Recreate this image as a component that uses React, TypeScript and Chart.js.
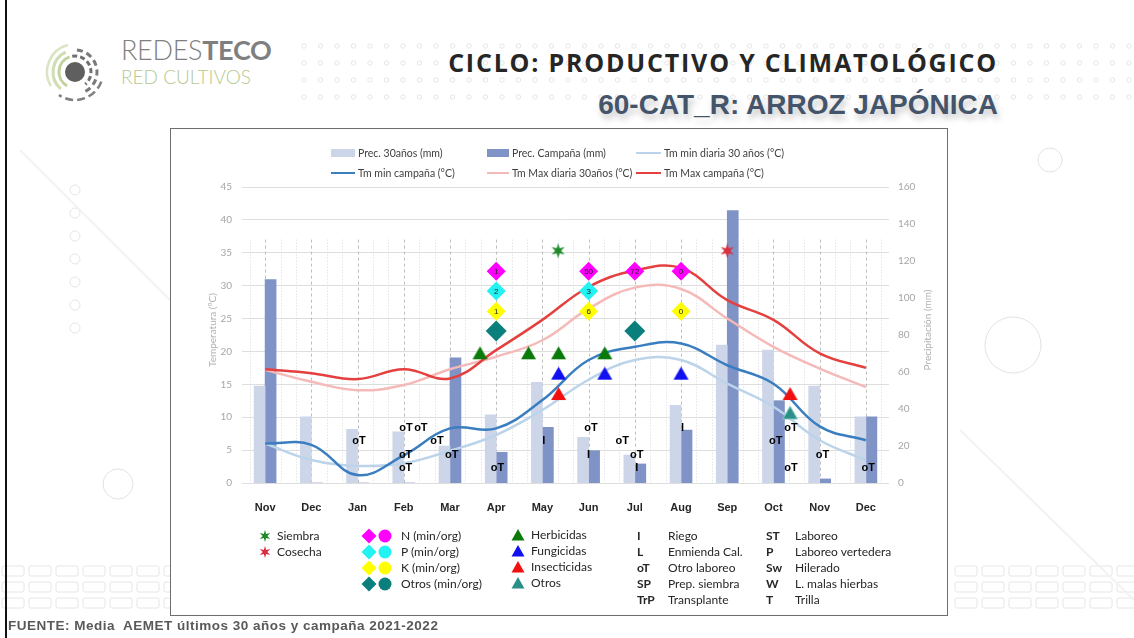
import React, { useEffect, useRef } from 'react';
import { Chart, registerables } from 'chart.js';

Chart.register(...registerables);

// ---------- data ----------
const months = ['Nov', 'Dec', 'Jan', 'Feb', 'Mar', 'Apr', 'May', 'Jun', 'Jul', 'Aug', 'Sep', 'Oct', 'Nov', 'Dec'];
const precHist = [52.4, 35.8, 29.0, 27.7, 20.0, 36.8, 54.4, 24.7, 15.1, 42.0, 74.6, 71.9, 52.4, 35.8];
const precCamp = [110.0, 0, 0, 0, 67.7, 16.6, 30.1, 17.5, 10.3, 28.6, 147.2, 44.5, 2.2, 35.8];
const tminHist = [6.0, 3.5, 2.6, 3.0, 4.9, 7.3, 11.1, 15.7, 18.7, 18.7, 15.1, 11.6, 6.5, 3.5];
const tminCamp = [6.0, 5.8, 1.2, 4.2, 8.3, 8.3, 12.6, 18.7, 20.7, 21.2, 17.9, 15.1, 8.6, 6.5];
const tmaxHist = [17.2, 15.4, 14.1, 14.9, 17.3, 19.2, 21.7, 26.5, 29.7, 29.5, 25.0, 20.7, 17.4, 14.6];
const tmaxCamp = [17.3, 16.7, 15.8, 17.3, 15.9, 20.2, 24.8, 29.8, 32.3, 32.7, 27.8, 24.8, 19.7, 17.5];

const tempMin = 0, tempMax = 45, tempStep = 5;
const precMin = 0, precMax = 160, precStep = 20;
const gridTop = 37;

// markers: x = fractional month index, y = temperature axis position
const siembraX = [6.34]; const siembraY = [35.3];
const cosechaX = [10.0]; const cosechaY = [35.3];
const nX = [5, 7, 8, 9]; const nY = [32.2, 32.2, 32.2, 32.2]; const nText = ['1', '50', '72', '0'];
const pX = [5, 7]; const pY = [29.2, 29.2]; const pText = ['2', '3'];
const kX = [5, 7, 9]; const kY = [26.1, 26.1, 26.1]; const kText = ['1', '6', '0'];
const otrosFertX = [5, 8]; const otrosFertY = [23.1, 23.1];
const herbX = [4.65, 5.7, 6.35, 7.35]; const herbY = [19.8, 19.8, 19.8, 19.8];
const fungX = [6.35, 7.35, 9.0]; const fungY = [16.7, 16.7, 16.7];
const insX = [6.35, 11.36]; const insY = [13.6, 13.6];
const otrosTrX = [11.36]; const otrosTrY = [10.7];
const oTX = [2.03, 3.05, 3.37, 3.72, 3.04, 3.04, 4.04, 5.03, 7.05, 7.73, 8.04, 11.05, 11.38, 11.38, 12.06, 13.05];
const oTY = [6.4, 8.4, 8.4, 6.4, 4.3, 2.4, 4.3, 2.4, 8.4, 6.4, 4.3, 6.4, 8.4, 2.4, 4.3, 2.4];
const riegoX = [6.03, 7.0, 8.04, 9.03]; const riegoY = [6.4, 4.3, 2.4, 8.4];

const pts = (xs: number[], ys: number[]) => xs.map((x, i) => ({ x, y: ys[i] }));

// bar layout (style): each bar 11px; shift half a bar off the month centre
const BAR_PX = 11;
const BAR_SHIFT = 0.119;
const barPts = (vals: number[], dir: number) => vals.map((v, i) => ({ x: i + dir * BAR_SHIFT, y: v }));

const CAL = "Lato, 'Open Sans', sans-serif";
const NARROW = "'Liberation Sans Narrow', 'Liberation Sans', Arial, sans-serif";
const ARIAL = "'Liberation Sans', Arial, sans-serif";

function makeStar(color: string, r: number) {
  const c = document.createElement('canvas');
  const s = Math.ceil(r * 2 + 2);
  c.width = s; c.height = s;
  const g = c.getContext('2d')!;
  g.fillStyle = color;
  g.beginPath();
  for (let i = 0; i < 12; i++) {
    const a = -Math.PI / 2 + (i * Math.PI) / 6;
    const rr = i % 2 === 0 ? r : r * 0.4;
    g.lineTo(s / 2 + rr * Math.cos(a), s / 2 + rr * Math.sin(a));
  }
  g.closePath();
  g.fill();
  return c;
}

function makeTri(color: string, w: number, h: number, stroke?: string) {
  const c = document.createElement('canvas');
  c.width = w + 2; c.height = h + 2;
  const g = c.getContext('2d')!;
  g.fillStyle = color;
  g.beginPath();
  g.moveTo(1 + w / 2, 1);
  g.lineTo(1 + w, 1 + h);
  g.lineTo(1, 1 + h);
  g.closePath();
  g.fill();
  if (stroke) { g.strokeStyle = stroke; g.lineWidth = 1; g.stroke(); }
  return c;
}

const monthGrid = {
  id: 'monthGrid',
  beforeDatasetsDraw(chart: any) {
    const x2 = chart.scales.x2, y = chart.scales.y, ctx = chart.ctx;
    const top = y.getPixelForValue(gridTop), bottom = y.getPixelForValue(0);
    ctx.save();
    ctx.lineWidth = 1;
    for (let i = 0; i < months.length; i++) {
      for (const k of [-1, 0, 1]) {
        const px = Math.round(x2.getPixelForValue(i + k / 3)) + 0.5;
        ctx.strokeStyle = k === 0 ? '#BEBEBE' : '#D8D8D8';
        ctx.setLineDash(k === 0 ? [3, 3] : [1, 2]);
        ctx.beginPath();
        ctx.moveTo(px, top);
        ctx.lineTo(px, bottom);
        ctx.stroke();
      }
    }
    ctx.restore();
  },
};

const textMarks = {
  id: 'textMarks',
  afterDatasetsDraw(chart: any) {
    const ctx = chart.ctx;
    chart.data.datasets.forEach((ds: any, i: number) => {
      if (!ds.texts && !ds.mark) return;
      const meta = chart.getDatasetMeta(i);
      ctx.save();
      ctx.font = ds.textFont;
      ctx.fillStyle = ds.textColor || '#000';
      ctx.textAlign = 'center';
      ctx.textBaseline = 'middle';
      meta.data.forEach((el: any, j: number) => {
        const t = ds.texts ? ds.texts[j] : ds.mark;
        ctx.fillText(t, el.x, el.y + 0.5);
      });
      ctx.restore();
    });
  },
};

function ChartCanvas() {
  const ref = useRef<HTMLCanvasElement>(null);
  useEffect(() => {
    const starG = makeStar('#1F8A2A', 7.5);
    const starR = makeStar('#D9303F', 7.5);
    const triG = makeTri('#0A7A0A', 15, 13);
    const triB = makeTri('#1010F0', 15, 13);
    const triR = makeTri('#F01010', 15, 13);
    const triT = makeTri('#2A8F86', 15, 13, '#8FD3CB');
    const scatter = (data: any[], extra: any) => ({
      type: 'scatter', data, xAxisID: 'x2', yAxisID: 'y', order: 2,
      pointRadius: 6, borderWidth: 0, ...extra,
    });
    const bar = (label: string, data: any[], color: string, order: number) => ({
      type: 'bar', label, data, backgroundColor: color, xAxisID: 'x2', yAxisID: 'yP',
      order, grouped: false, barThickness: BAR_PX,
    });
    const line = (label: string, data: number[], color: string, order: number) => ({
      type: 'line', label, data, borderColor: color, borderWidth: 2.5, tension: 0.4,
      pointRadius: 0, xAxisID: 'x', yAxisID: 'y', order,
    });
    const chart = new Chart(ref.current!, {
      data: {
        labels: months,
        datasets: [
          bar('Prec. 30años (mm)', barPts(precHist, -1), '#CDD5E9', 20),
          bar('Prec. Campaña (mm)', barPts(precCamp, 1), '#7F93C6', 21),
          line('Tm min diaria 30 años (°C)', tminHist, '#BCD4EA', 15),
          line('Tm min campaña (°C)', tminCamp, '#3A7EC0', 14),
          line('Tm Max diaria 30años (°C)', tmaxHist, '#F5B9B8', 13),
          line('Tm Max campaña (°C)', tmaxCamp, '#E4403F', 12),
          scatter(pts(siembraX, siembraY), { label: 'Siembra', pointStyle: starG }),
          scatter(pts(cosechaX, cosechaY), { label: 'Cosecha', pointStyle: starR }),
          scatter(pts(nX, nY), { label: 'N', pointStyle: 'rectRot', pointRadius: 9.5, backgroundColor: '#FF00FF', texts: nText, textFont: `8px ${ARIAL}`, textColor: '#222' }),
          scatter(pts(pX, pY), { label: 'P', pointStyle: 'rectRot', pointRadius: 9.5, backgroundColor: '#22F2F2', texts: pText, textFont: `8px ${ARIAL}`, textColor: '#222' }),
          scatter(pts(kX, kY), { label: 'K', pointStyle: 'rectRot', pointRadius: 9.5, backgroundColor: '#FFFF00', texts: kText, textFont: `8px ${ARIAL}`, textColor: '#222' }),
          scatter(pts(otrosFertX, otrosFertY), { label: 'Otros', pointStyle: 'rectRot', pointRadius: 10.5, backgroundColor: '#0B7F7B' }),
          scatter(pts(herbX, herbY), { label: 'Herbicidas', pointStyle: triG }),
          scatter(pts(fungX, fungY), { label: 'Fungicidas', pointStyle: triB }),
          scatter(pts(insX, insY), { label: 'Insecticidas', pointStyle: triR }),
          scatter(pts(otrosTrX, otrosTrY), { label: 'Otros tr', pointStyle: triT }),
          scatter(pts(oTX, oTY), { label: 'oT', pointRadius: 0, mark: 'oT', textFont: `bold 11px ${ARIAL}`, textColor: '#000', order: 1 }),
          scatter(pts(riegoX, riegoY), { label: 'I', pointRadius: 0, mark: 'I', textFont: `bold 11px ${ARIAL}`, textColor: '#000', order: 1 }),
        ] as any,
      },
      options: {
        responsive: false,
        animation: false,
        layout: { padding: { left: 30, right: 14, top: 58, bottom: 0 } },
        plugins: { legend: { display: false }, tooltip: { enabled: false } },
        scales: {
          x: {
            type: 'category', position: 'bottom', offset: true,
            grid: { display: false, drawTicks: false }, border: { display: false },
            ticks: { padding: 18, autoSkip: false, maxRotation: 0, color: '#262626', font: { family: NARROW, size: 11, weight: 'bold' } },
            afterFit: (s: any) => { s.height = 132; },
          },
          x2: { type: 'linear', display: false, min: -0.5, max: 13.5, offset: false, grid: { offset: false } },
          y: {
            type: 'linear', position: 'left', min: tempMin, max: tempMax,
            ticks: { stepSize: tempStep, padding: 10, color: '#A6A6A6', font: { family: CAL, size: 10 } },
            grid: { color: '#DEDEDE', drawTicks: false }, border: { display: false },
            afterFit: (s: any) => { s.width = 41; },
          },
          yP: {
            type: 'linear', position: 'right', min: precMin, max: precMax,
            ticks: { stepSize: precStep, padding: 9, color: '#A6A6A6', font: { family: CAL, size: 10 } },
            grid: { display: false, drawTicks: false }, border: { display: false },
            afterFit: (s: any) => { s.width = 44; },
          },
        },
      } as any,
      plugins: [monthGrid, textMarks],
    });
    return () => chart.destroy();
  }, []);
  return <canvas ref={ref} width={776} height={486} style={{ position: 'absolute', left: 0, top: 0, width: 776, height: 486 }} />;
}

// ---------- small svg symbols ----------
const Star = ({ cx, cy, color }: any) => {
  const p: string[] = [];
  for (let i = 0; i < 12; i++) {
    const a = -Math.PI / 2 + (i * Math.PI) / 6;
    const rr = i % 2 === 0 ? 6 : 2.4;
    p.push(`${(cx + rr * Math.cos(a)).toFixed(2)},${(cy + rr * Math.sin(a)).toFixed(2)}`);
  }
  return <polygon points={p.join(' ')} fill={color} />;
};
const Diamond = ({ cx, cy, r, color }: any) => (
  <polygon points={`${cx - r},${cy} ${cx},${cy - r} ${cx + r},${cy} ${cx},${cy + r}`} fill={color} />
);
const Tri = ({ cx, cy, color }: any) => (
  <polygon points={`${cx - 6.5},${cy + 5.5} ${cx},${cy - 6} ${cx + 6.5},${cy + 5.5}`} fill={color} />
);

function arcPath(cx: number, cy: number, r: number, a0: number, a1: number) {
  const t0 = (a0 * Math.PI) / 180, t1 = (a1 * Math.PI) / 180;
  const x0 = cx + r * Math.cos(t0), y0 = cy + r * Math.sin(t0);
  const x1 = cx + r * Math.cos(t1), y1 = cy + r * Math.sin(t1);
  const large = Math.abs(a1 - a0) > 180 ? 1 : 0;
  return `M${x0.toFixed(2)},${y0.toFixed(2)} A${r},${r} 0 ${large} 1 ${x1.toFixed(2)},${y1.toFixed(2)}`;
}

function Background() {
  const dots: any[] = [];
  const rows = [46, 63, 80, 97];
  rows.forEach((y, ri) => {
    for (let x = 304; x < 1134; x += 16.5) {
      dots.push(<circle key={`d${ri}-${x}`} cx={x} cy={y} r={2.2} fill="none" stroke="#E6E6E6" strokeWidth={1} />);
    }
  });
  const boxes: any[] = [];
  [566, 582, 598].forEach((y, ri) => {
    for (let x = 2; x < 168; x += 27) boxes.push(<rect key={`bl${ri}-${x}`} x={x} y={y} width={22} height={10} rx={2} fill="none" stroke="#E6E6E6" />);
    for (let x = 955; x < 1134; x += 27) boxes.push(<rect key={`br${ri}-${x}`} x={x} y={y} width={22} height={10} rx={2} fill="none" stroke="#E6E6E6" />);
  });
  const leftCircles = [190, 213, 236, 259, 282, 305, 328].map((y) => (
    <circle key={`lc${y}`} cx={75} cy={y} r={5} fill="none" stroke="#E6E6E6" />
  ));
  return (
    <svg width={1134} height={638} style={{ position: 'absolute', left: 0, top: 0 }}>
      {dots}
      {boxes}
      {leftCircles}
      <line x1={20} y1={150} x2={300} y2={430} stroke="#F2F2F2" strokeWidth={2} />
      <line x1={960} y1={430} x2={1134} y2={600} stroke="#F2F2F2" strokeWidth={2} />
      <circle cx={1050} cy={160} r={12} fill="none" stroke="#E3E3E3" />
      <circle cx={1013} cy={345} r={28} fill="none" stroke="#E3E3E3" />
      <circle cx={118} cy={484} r={15} fill="none" stroke="#E3E3E3" />
      <rect x={5} y={0} width={2} height={638} fill="#111" />
      {/* logo */}
      <circle cx={75} cy={72} r={10} fill="#5F5F5F" />
      <path d={arcPath(75, 72, 16, 120, 250)} stroke="#C3D39E" strokeWidth={3} fill="none" />
      <path d={arcPath(75, 72, 22, 130, 245)} stroke="#CFDDB0" strokeWidth={3} fill="none" />
      <path d={arcPath(75, 72, 28, 150, 255)} stroke="#D9E4C2" strokeWidth={2.5} fill="none" />
      <path d={arcPath(75, 72, 16, 260, 410)} stroke="#707070" strokeWidth={3} strokeDasharray="5 3" fill="none" />
      <path d={arcPath(75, 72, 22, 275, 430)} stroke="#7A7A7A" strokeWidth={3} strokeDasharray="6 4" fill="none" />
      <path d={arcPath(75, 72, 28, 20, 125)} stroke="#808080" strokeWidth={2.5} strokeDasharray="8 4" fill="none" />
    </svg>
  );
}

const abs = (left: number, top: number, extra: any = {}) => ({ position: 'absolute' as const, left, top, whiteSpace: 'nowrap' as const, ...extra });

function TopLegend() {
  const item = (x: number, y: number, kind: 'bar' | 'line', color: string, text: string, swW: number) => (
    <React.Fragment key={text}>
      <div style={abs(x, y - (kind === 'bar' ? 4 : 1.25), { width: swW, height: kind === 'bar' ? 8 : 2.5, background: color })} />
      <div style={abs(x + swW + 3, y - 7, { fontFamily: CAL, fontSize: 10.5, lineHeight: '14px', color: '#404040' })}>{text}</div>
    </React.Fragment>
  );
  return (
    <>
      {item(331, 153, 'bar', '#CDD5E9', 'Prec. 30años (mm)', 24)}
      {item(487, 153, 'bar', '#7F93C6', 'Prec. Campaña (mm)', 22)}
      {item(636, 153, 'line', '#BCD4EA', 'Tm min diaria 30 años (°C)', 25)}
      {item(331, 173, 'line', '#3A7EC0', 'Tm min campaña (°C)', 24)}
      {item(487, 173, 'line', '#F5B9B8', 'Tm Max diaria 30años (°C)', 22)}
      {item(636, 173, 'line', '#E4403F', 'Tm Max campaña (°C)', 25)}
    </>
  );
}

function BottomLegend() {
  const txt = (x: number, y: number, s: string, bold = false) => (
    <div key={`${s}-${x}-${y}`} style={abs(x, y - 8, { fontFamily: CAL, fontSize: 12, lineHeight: '16px', color: '#262626', fontWeight: bold ? 700 : 400 })}>{s}</div>
  );
  const rows = [536, 552, 568, 584, 600];
  const fert = [['#FF00FF', 'N (min/org)'], ['#22F2F2', 'P (min/org)'], ['#FFFF00', 'K (min/org)'], ['#0B7F7B', 'Otros (min/org)']];
  const tris = [['#0A7A0A', 'Herbicidas'], ['#1010F0', 'Fungicidas'], ['#F01010', 'Insecticidas'], ['#2A8F86', 'Otros']];
  const codes1 = [['I', 'Riego'], ['L', 'Enmienda Cal.'], ['oT', 'Otro laboreo'], ['SP', 'Prep. siembra'], ['TrP', 'Transplante']];
  const codes2 = [['ST', 'Laboreo'], ['P', 'Laboreo vertedera'], ['Sw', 'Hilerado'], ['W', 'L. malas hierbas'], ['T', 'Trilla']];
  return (
    <>
      <svg width={1134} height={638} style={{ position: 'absolute', left: 0, top: 0, pointerEvents: 'none' }}>
        <Star cx={265} cy={536} color="#1F8A2A" />
        <Star cx={265} cy={552} color="#D9303F" />
        {fert.map(([c], i) => (
          <React.Fragment key={`f${i}`}>
            <Diamond cx={369} cy={rows[i]} r={7.5} color={c} />
            <circle cx={385} cy={rows[i]} r={6.5} fill={c} />
          </React.Fragment>
        ))}
        {tris.map(([c], i) => <Tri key={`t${i}`} cx={518} cy={rows[i] - 1} color={c} />)}
      </svg>
      {txt(277, 536, 'Siembra')}
      {txt(277, 552, 'Cosecha')}
      {fert.map(([, t], i) => txt(401, rows[i], t))}
      {tris.map(([, t], i) => txt(531, rows[i] - 1, t))}
      {codes1.map(([c, t], i) => (
        <React.Fragment key={`c1${i}`}>
          {txt(637, rows[i], c, true)}
          {txt(668, rows[i], t)}
        </React.Fragment>
      ))}
      {codes2.map(([c, t], i) => (
        <React.Fragment key={`c2${i}`}>
          {txt(766, rows[i], c, true)}
          {txt(795, rows[i], t)}
        </React.Fragment>
      ))}
    </>
  );
}

export default function App() {
  return (
    <div style={{ position: 'fixed', left: 0, top: 0, width: 1134, height: 638, background: '#fff', overflow: 'hidden' }}>
      <Background />
      {/* logo text */}
      <div style={abs(121, 35, { fontFamily: CAL, fontSize: 27, lineHeight: '30px', color: '#7F7F7F', fontWeight: 300, letterSpacing: -0.3 })}>
        REDES<span style={{ fontWeight: 700 }}>TECO</span>
      </div>
      <div style={abs(121, 66, { fontFamily: CAL, fontSize: 19, lineHeight: '22px', color: '#B5C98F', fontWeight: 300 })}>RED CULTIVOS</div>
      {/* titles */}
      <div style={{ position: 'absolute', right: 136, top: 45, whiteSpace: 'nowrap', fontFamily: "'Open Sans', Lato, sans-serif", fontSize: 25, lineHeight: '34px', fontWeight: 700, color: '#262626', letterSpacing: 1.8 }}>
        CICLO: PRODUCTIVO Y CLIMATOLÓGICO
      </div>
      <div style={{ position: 'absolute', right: 136, top: 88, whiteSpace: 'nowrap', fontFamily: ARIAL, fontSize: 28, lineHeight: '34px', fontWeight: 700, color: '#44546A', textShadow: '2px 5px 6px rgba(0,0,0,0.22)' }}>
        60-CAT_R: ARROZ JAPÓNICA
      </div>
      {/* chart box */}
      <div style={{ position: 'absolute', left: 170, top: 128, width: 776, height: 486, border: '1px solid #6E6E6E', background: '#fff' }}>
        <ChartCanvas />
      </div>
      <TopLegend />
      <div style={abs(212, 330, { transform: 'translate(-50%,-50%) rotate(-90deg)', fontFamily: CAL, fontSize: 10, color: '#B0B0B0' })}>Temperatura (°C)</div>
      <div style={abs(927, 330, { transform: 'translate(-50%,-50%) rotate(-90deg)', fontFamily: CAL, fontSize: 10, color: '#B0B0B0' })}>Precipitación (mm)</div>
      <BottomLegend />
      <div style={abs(8, 618, { fontFamily: ARIAL, fontSize: 13.5, lineHeight: '16px', fontWeight: 700, color: '#595959', letterSpacing: 0.5 })}>
        FUENTE: Media&nbsp; AEMET últimos 30 años y campaña 2021-2022
      </div>
    </div>
  );
}
